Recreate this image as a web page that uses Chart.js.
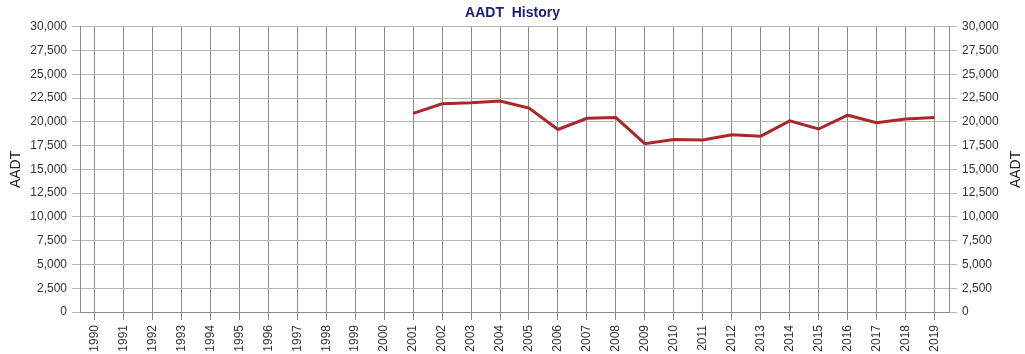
<!DOCTYPE html>
<html><head><meta charset="utf-8">
<script src="https://cdn.jsdelivr.net/npm/chart.js@4/dist/chart.umd.min.js"></script>
<style>html,body{margin:0;padding:0;background:#fff}#wrap{width:1025px;height:354px}</style>
</head><body><div id="wrap"><canvas id="c" width="1025" height="354"></canvas></div>
<script>
const years = ['1990','1991','1992','1993','1994','1995','1996','1997','1998','1999','2000','2001','2002','2003','2004','2005','2006','2007','2008','2009','2010','2011','2012','2013','2014','2015','2016','2017','2018','2019'];
const aadt = [null,null,null,null,null,null,null,null,null,null,null,20900,21900,22000,22200,21450,19200,20380,20450,17700,18150,18100,18650,18500,20100,19250,20700,19900,20300,20450];
const yMin = 0, yMax = 30000, yStep = 2500;
const titleText = 'AADT  History';
const axisTitle = 'AADT';

const fmt = v => v.toLocaleString('en-US');
const fontFam = '"Liberation Sans", Arial, sans-serif';
const tickFont = {family:fontFam, size:12};

// Right axis title reads bottom-to-top, like the left one
const rightTitle = {
  id:'rightTitle',
  afterDraw(chart){
    const ctx = chart.ctx, ca = chart.chartArea, s = chart.scales.y2;
    ctx.save();
    ctx.font = '14px ' + fontFam;
    ctx.fillStyle = '#222';
    ctx.textAlign = 'center';
    ctx.textBaseline = 'middle';
    ctx.translate(s.right - 9, (ca.top + ca.bottom) / 2);
    ctx.rotate(-Math.PI / 2);
    ctx.fillText(axisTitle, 0, 0);
    ctx.restore();
  }
};

new Chart(document.getElementById('c'), {
  type:'line',
  data:{labels:years, datasets:[{data:aadt, borderColor:'#a8282b', borderWidth:3, pointRadius:0, tension:0, fill:false, spanGaps:false}]},
  options:{
    responsive:false, animation:false, devicePixelRatio:1,
    layout:{padding:{left:0,right:0,top:0,bottom:0}},
    plugins:{legend:{display:false}, tooltip:{enabled:false},
      title:{display:true, text:titleText, color:'#1b1b7a', font:{family:fontFam, size:14, weight:'bold'}, padding:{top:5,bottom:5}}},
    scales:{
      x:{offset:true, grid:{color:'#8a8a8a', lineWidth:1, tickLength:8, offset:false},
         border:{color:'#8a8a8a'},
         ticks:{color:'#333', font:tickFont, maxRotation:90, minRotation:90, autoSkip:false, padding:5},
         afterFit:s=>{s.height=42;}},
      y:{position:'left', min:yMin, max:yMax, grid:{color:'#b5b5b5', lineWidth:1, tickLength:8},
         border:{color:'#8a8a8a'},
         ticks:{stepSize:yStep, color:'#333', font:tickFont, padding:5, callback:v=>fmt(v)},
         title:{display:true, text:axisTitle, color:'#222', font:{family:fontFam, size:14}, padding:{top:8,bottom:0}},
         afterFit:s=>{s.width=80;}},
      y2:{position:'right', min:yMin, max:yMax, grid:{drawOnChartArea:false, color:'#b5b5b5', tickLength:8},
         border:{color:'#8a8a8a'},
         ticks:{stepSize:yStep, color:'#333', font:tickFont, padding:5, callback:v=>fmt(v)},
         title:{display:false},
         afterFit:s=>{s.width=76;}}
    }
  },
  plugins:[rightTitle]
});
</script></body></html>
